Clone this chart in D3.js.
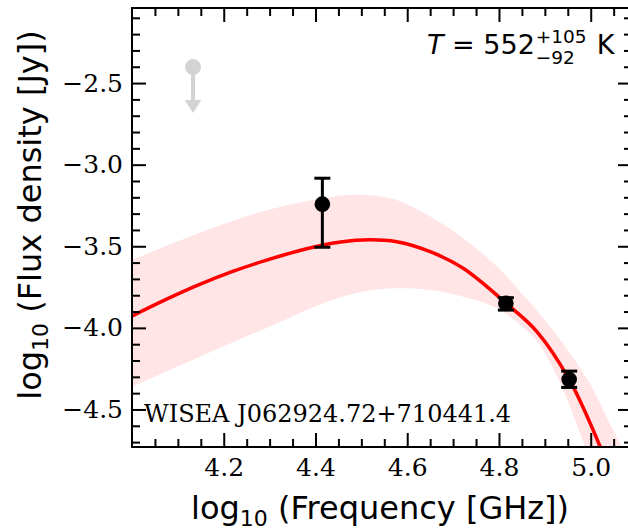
<!DOCTYPE html>
<html>
<meta charset='utf-8'>
<title>SED fit</title>
<style>
  body { margin: 0; background: #fff; }
  .tick text { font-family: 'DejaVu Serif', serif; font-size: 25px; fill: #000; }
  .tick line { stroke: #000; stroke-width: 2; }
  .domain { display: none; }
</style>
<script src='https://d3js.org/d3.v7.min.js'></script>
<body>
<script>
  // values, all in log10 units
  var fitFreq = [4.000, 4.072, 4.145, 4.218, 4.290, 4.362, 4.436, 4.503, 4.577, 4.650, 4.722, 4.815, 4.883, 4.953, 5.021];
  var fitFlux = [-3.928, -3.829, -3.737, -3.656, -3.588, -3.529, -3.482, -3.461, -3.472, -3.533, -3.635, -3.848, -4.024, -4.316, -4.731];

  var bandHiFreq = [4.000, 4.145, 4.290, 4.436, 4.503, 4.577, 4.650, 4.722, 4.796, 4.837, 4.900, 4.955, 5.002, 5.038, 5.068];
  var bandHiFlux = [-3.584, -3.420, -3.282, -3.196, -3.185, -3.216, -3.318, -3.451, -3.625, -3.748, -3.952, -4.156, -4.361, -4.566, -4.729];
  var bandLoFreq = [4.000, 4.145, 4.290, 4.436, 4.503, 4.577, 4.650, 4.722, 4.796, 4.875, 4.900, 4.937, 4.966, 4.988];
  var bandLoFlux = [-4.361, -4.180, -4.005, -3.830, -3.778, -3.758, -3.768, -3.809, -3.880, -4.055, -4.156, -4.361, -4.566, -4.730];

  var detFreq = [4.415, 4.815, 4.953];
  var detFlux = [-3.242, -3.850, -4.316];
  var detErrUp = [0.159, 0.035, 0.051];
  var detErrDown = [0.264, 0.041, 0.049];

  var limFreq = [4.133];
  var limFlux = [-2.402];

  var xTicks = [4.2, 4.4, 4.6, 4.8, 5.0];
  var yTicks = [-4.5, -4.0, -3.5, -3.0, -2.5];
  var xMinor = d3.range(4.05, 5.09, 0.05).filter(function(d) { return xTicks.every(function(t) { return Math.abs(t - d) > 1e-6; }); });
  var yMinor = d3.range(-4.7, -2.05, 0.1).filter(function(d) { return yTicks.every(function(t) { return Math.abs(t - d) > 1e-6; }); });

  var sourceName = 'WISEA J062924.72+710441.4';

  var margin = {top: 8, right: -4, bottom: 84, left: 132},
      width = 628 - margin.left - margin.right,
      height = 531 - margin.top - margin.bottom;

  var svg = d3.select('body').append('svg')
      .attr('width', 628)
      .attr('height', 531)
    .append('g')
      .attr('transform', 'translate(' + margin.left + ',' + margin.top + ')');

  var x = d3.scaleLinear().domain([4.0, 5.09]).range([0, width]);
  var y = d3.scaleLinear().domain([-4.73, -2.04]).range([height, 0]);

  svg.append('clipPath').attr('id', 'plotclip')
    .append('rect').attr('width', width).attr('height', height);

  var plot = svg.append('g').attr('clip-path', 'url(#plotclip)');

  // uncertainty band
  var edge = d3.line()
      .x(function(d) { return x(d[0]); })
      .y(function(d) { return y(d[1]); })
      .curve(d3.curveCatmullRom.alpha(0.5));

  var hiPts = bandHiFreq.map(function(f, i) { return [f, bandHiFlux[i]]; });
  var loPts = bandLoFreq.map(function(f, i) { return [f, bandLoFlux[i]]; }).reverse();

  plot.append('path')
      .attr('d', edge(hiPts) + edge(loPts).replace(/^M/, 'L') + 'Z')
      .style('fill', 'red')
      .style('fill-opacity', 0.1)
      .style('stroke', 'none');

  // best fit
  plot.append('path')
      .attr('d', edge(fitFreq.map(function(f, i) { return [f, fitFlux[i]]; })))
      .style('fill', 'none')
      .style('stroke', 'red')
      .style('stroke-width', 3.5);

  // upper limit
  var lim = svg.selectAll('.limit')
      .data(limFreq.map(function(f, i) { return {f: f, v: limFlux[i]}; }))
      .enter().append('g')
      .attr('class', 'limit')
      .attr('transform', function(d) { return 'translate(' + x(d.f) + ',' + y(d.v) + ')'; });
  lim.append('line').attr('y1', 0).attr('y2', 34)
      .style('stroke', '#d3d3d3').style('stroke-width', 4);
  lim.append('path').attr('d', 'M-8.3,33L8.3,33L0,46Z').style('fill', '#d3d3d3');
  lim.append('circle').attr('r', 8).style('fill', '#d3d3d3');

  // detections with error bars
  var det = svg.selectAll('.det')
      .data(detFreq.map(function(f, i) {
        return {f: f, v: detFlux[i], hi: detFlux[i] + detErrUp[i], lo: detFlux[i] - detErrDown[i]};
      }))
      .enter().append('g')
      .attr('class', 'det');
  det.append('line')
      .attr('x1', function(d) { return x(d.f); })
      .attr('x2', function(d) { return x(d.f); })
      .attr('y1', function(d) { return y(d.hi); })
      .attr('y2', function(d) { return y(d.lo); })
      .style('stroke', '#000').style('stroke-width', 3);
  ['hi', 'lo'].forEach(function(k) {
    det.append('line')
        .attr('x1', function(d) { return x(d.f) - 8; })
        .attr('x2', function(d) { return x(d.f) + 8; })
        .attr('y1', function(d) { return y(d[k]); })
        .attr('y2', function(d) { return y(d[k]); })
        .style('stroke', '#000').style('stroke-width', 3);
  });
  det.append('circle')
      .attr('cx', function(d) { return x(d.f); })
      .attr('cy', function(d) { return y(d.v); })
      .attr('r', 7.8)
      .style('fill', '#000');

  // axes, ticks pointing inwards on all four sides
  var fmt = d3.format('.1f');
  svg.append('g').attr('transform', 'translate(0,' + height + ')')
      .call(d3.axisBottom(x).tickValues(xTicks).tickFormat(fmt).tickSizeInner(-14).tickSizeOuter(0).tickPadding(11));
  svg.append('g').attr('transform', 'translate(0,' + height + ')')
      .call(d3.axisBottom(x).tickValues(xMinor).tickFormat('').tickSizeInner(-8).tickSizeOuter(0));
  svg.append('g')
      .call(d3.axisTop(x).tickValues(xTicks).tickFormat('').tickSizeInner(-14).tickSizeOuter(0));
  svg.append('g')
      .call(d3.axisTop(x).tickValues(xMinor).tickFormat('').tickSizeInner(-8).tickSizeOuter(0));

  svg.append('g')
      .call(d3.axisLeft(y).tickValues(yTicks).tickFormat(fmt).tickSizeInner(-14).tickSizeOuter(0).tickPadding(9));
  svg.append('g')
      .call(d3.axisLeft(y).tickValues(yMinor).tickFormat('').tickSizeInner(-8).tickSizeOuter(0));
  svg.append('g').attr('transform', 'translate(' + width + ',0)')
      .call(d3.axisRight(y).tickValues(yTicks).tickFormat('').tickSizeInner(-14).tickSizeOuter(0));
  svg.append('g').attr('transform', 'translate(' + width + ',0)')
      .call(d3.axisRight(y).tickValues(yMinor).tickFormat('').tickSizeInner(-8).tickSizeOuter(0));

  svg.append('rect')
      .attr('width', width)
      .attr('height', height)
      .style('fill', 'none')
      .style('stroke', '#000')
      .style('stroke-width', 2);

  // axis labels
  function logLabel(sel, rest) {
    sel.append('tspan').text('log');
    sel.append('tspan').attr('dy', 7).style('font-size', '22px').text('10');
    sel.append('tspan').attr('dy', -7).text(' (' + rest + ')');
  }

  var xl = svg.append('text')
      .attr('x', width / 2 - 2)
      .attr('y', 511)
      .style('text-anchor', 'middle')
      .style('font-family', 'DejaVu Sans')
      .style('font-size', '32px');
  logLabel(xl, 'Frequency [GHz]');

  var yl = svg.append('text')
      .attr('transform', 'translate(' + (41 - margin.left) + ',' + (215 - margin.top) + ') rotate(-90)')
      .style('text-anchor', 'middle')
      .style('font-family', 'DejaVu Sans')
      .style('font-size', '32px');
  logLabel(yl, 'Flux density [Jy]');

  // temperature annotation
  var tx = 427 - margin.left, ty = 54 - margin.top;
  var tMain = svg.append('text')
      .attr('x', tx).attr('y', ty)
      .style('font-family', 'DejaVu Sans')
      .style('font-size', '27px');
  tMain.append('tspan').style('font-style', 'italic').text('T');
  tMain.append('tspan').text(' = 552');
  var w = tMain.node().getComputedTextLength();

  var sup = svg.append('text')
      .attr('x', tx + w + 1).attr('y', ty - 11.5)
      .style('font-family', 'DejaVu Sans').style('font-size', '18.5px')
      .text('+105');
  svg.append('text')
      .attr('x', tx + w + 1).attr('y', ty + 10)
      .style('font-family', 'DejaVu Sans').style('font-size', '18.5px')
      .text('\u221292');
  svg.append('text')
      .attr('x', tx + w + 1 + sup.node().getComputedTextLength() + 10).attr('y', ty)
      .style('font-family', 'DejaVu Sans').style('font-size', '27px')
      .text('K');

  // source name
  svg.append('text')
      .attr('x', 144 - margin.left)
      .attr('y', 422 - margin.top)
      .style('font-family', 'DejaVu Serif')
      .style('font-size', '24px')
      .text(sourceName);
</script>
</body>
</html>
